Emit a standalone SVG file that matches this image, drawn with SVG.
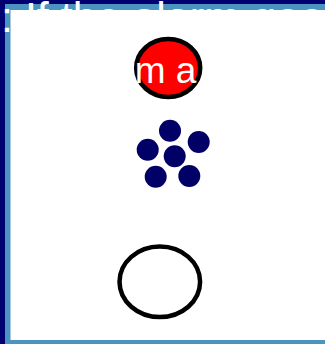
<svg xmlns="http://www.w3.org/2000/svg" width="325" height="344" viewBox="0 0 325 344">
<style>
.t{font-family:"Liberation Sans",Arial,sans-serif;fill:#ffffff}
.dot{fill:#000066}
</style>
<g id="frame">
<rect x="0" y="0" width="325" height="344" fill="#000070"/>
<rect x="5" y="4" width="330" height="350" fill="#4b94c0"/>
<text class="t" x="1" y="31.5" font-size="43">: If the alarm goes</text>
<rect x="10.5" y="10" width="320" height="330" fill="#ffffff"/>
</g>
<g id="alarm">
<ellipse cx="168.2" cy="68" rx="32" ry="29" fill="#ff0000" stroke="#000000" stroke-width="4.5"/>
<text class="t" x="134.7" y="83.3" font-size="37">m a</text>
</g>
<g id="dots">
<circle class="dot" cx="170" cy="130.7" r="11"/>
<circle class="dot" cx="198.7" cy="142" r="11"/>
<circle class="dot" cx="147.7" cy="149.7" r="11"/>
<circle class="dot" cx="174.7" cy="156.3" r="11"/>
<circle class="dot" cx="155.7" cy="176.7" r="11"/>
<circle class="dot" cx="189.3" cy="176" r="11"/>
</g>
<g id="end">
<ellipse cx="159.8" cy="281.8" rx="40.3" ry="35.3" fill="#ffffff" stroke="#000000" stroke-width="4.5"/>
</g>
<g id="connectors"></g>
</svg>
